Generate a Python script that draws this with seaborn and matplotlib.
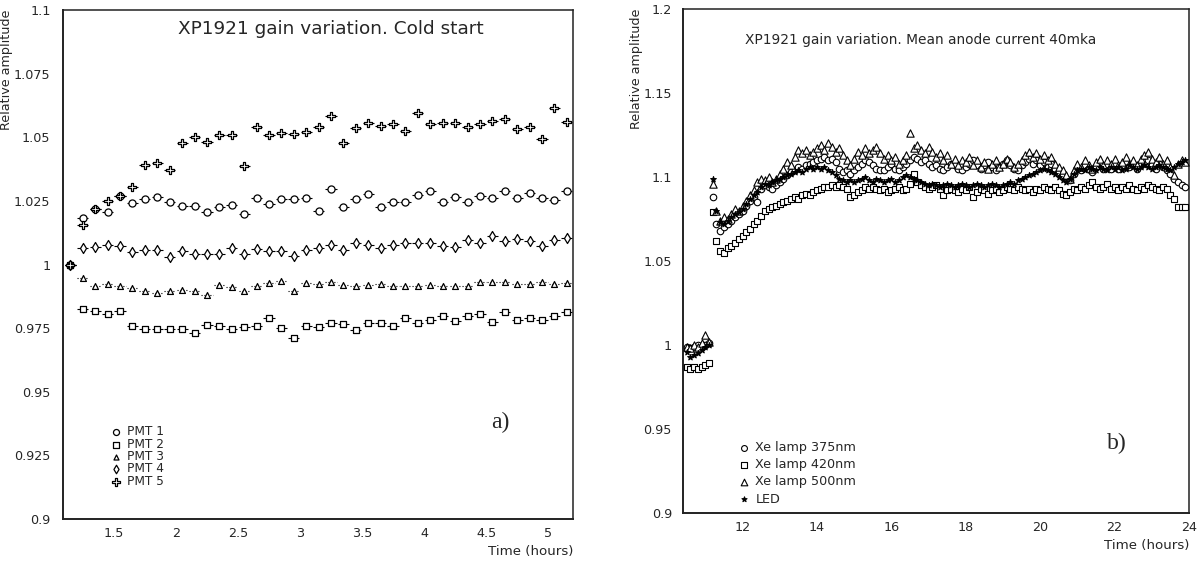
import numpy as np
import pandas as pd
import matplotlib
matplotlib.use("Agg")
import matplotlib.pyplot as plt
import seaborn as sns
from matplotlib.ticker import MultipleLocator, FuncFormatter

# ---------------- data: panel a ----------------
time_a = [1.15, 1.25, 1.35, 1.45, 1.55, 1.65, 1.75, 1.85, 1.95, 2.05,
          2.15, 2.25, 2.35, 2.45, 2.55, 2.65, 2.75, 2.85, 2.95, 3.05,
          3.15, 3.25, 3.35, 3.45, 3.55, 3.65, 3.75, 3.85, 3.95, 4.05,
          4.15, 4.25, 4.35, 4.45, 4.55, 4.65, 4.75, 4.85, 4.95, 5.05, 5.15]
pmt1 = [1.000, 1.0184, 1.0218, 1.0207, 1.0268, 1.0242, 1.0257, 1.0265, 1.0244, 1.0230,
        1.0231, 1.0208, 1.0225, 1.0235, 1.0197, 1.0261, 1.0238, 1.0256, 1.0256, 1.0260,
        1.0212, 1.0296, 1.0225, 1.0258, 1.0278, 1.0225, 1.0244, 1.0244, 1.0275, 1.0287,
        1.0245, 1.0265, 1.0247, 1.0268, 1.0262, 1.0288, 1.0262, 1.0282, 1.0262, 1.0253, 1.0290]
pmt2 = [1.000, 0.9825, 0.9817, 0.9804, 0.9817, 0.9759, 0.9747, 0.9747, 0.9746, 0.9747,
        0.9730, 0.9764, 0.9758, 0.9747, 0.9754, 0.9757, 0.9788, 0.9751, 0.9711, 0.9759,
        0.9753, 0.9770, 0.9768, 0.9743, 0.9772, 0.9772, 0.9758, 0.9788, 0.9770, 0.9780,
        0.9798, 0.9777, 0.9796, 0.9805, 0.9774, 0.9813, 0.9780, 0.9789, 0.9780, 0.9796, 0.9815]
pmt3 = [1.000, 0.9948, 0.9914, 0.9924, 0.9914, 0.9909, 0.9897, 0.9888, 0.9894, 0.9899,
        0.9897, 0.9881, 0.9918, 0.9911, 0.9895, 0.9914, 0.9927, 0.9935, 0.9894, 0.9927,
        0.9924, 0.9930, 0.9920, 0.9914, 0.9919, 0.9923, 0.9917, 0.9914, 0.9917, 0.9920,
        0.9917, 0.9914, 0.9914, 0.9933, 0.9930, 0.9932, 0.9924, 0.9923, 0.9930, 0.9923, 0.9927]
pmt4 = [1.000, 1.0066, 1.0070, 1.0078, 1.0071, 1.0049, 1.0056, 1.0056, 1.0031, 1.0052,
        1.0043, 1.0043, 1.0043, 1.0064, 1.0043, 1.0062, 1.0052, 1.0052, 1.0034, 1.0058,
        1.0066, 1.0078, 1.0058, 1.0086, 1.0078, 1.0065, 1.0077, 1.0083, 1.0086, 1.0084,
        1.0073, 1.0069, 1.0097, 1.0086, 1.0113, 1.0094, 1.0100, 1.0094, 1.0073, 1.0095, 1.0103]
pmt5 = [1.000, 1.0156, 1.0218, 1.0248, 1.0268, 1.0303, 1.0390, 1.0400, 1.0373, 1.0477,
        1.0500, 1.0482, 1.0507, 1.0510, 1.0388, 1.0539, 1.0508, 1.0518, 1.0514, 1.0520,
        1.0539, 1.0584, 1.0477, 1.0538, 1.0555, 1.0545, 1.0552, 1.0525, 1.0596, 1.0552,
        1.0556, 1.0556, 1.0542, 1.0552, 1.0565, 1.0570, 1.0531, 1.0542, 1.0494, 1.0613, 1.0561]
labels_a = ["PMT 1", "PMT 2", "PMT 3", "PMT 4", "PMT 5"]

# ---------------- data: panel b ----------------
time_b = [10.5, 10.6, 10.7, 10.8, 10.9,
          11.0, 11.1, 11.2, 11.3, 11.4, 11.5, 11.6, 11.7, 11.8, 11.9,
          12.0, 12.1, 12.2, 12.3, 12.4, 12.5, 12.6, 12.7, 12.8, 12.9,
          13.0, 13.1, 13.2, 13.3, 13.4, 13.5, 13.6, 13.7, 13.8, 13.9,
          14.0, 14.1, 14.2, 14.3, 14.4, 14.5, 14.6, 14.7, 14.8, 14.9,
          15.0, 15.1, 15.2, 15.3, 15.4, 15.5, 15.6, 15.7, 15.8, 15.9,
          16.0, 16.1, 16.2, 16.3, 16.4, 16.5, 16.6, 16.7, 16.8, 16.9,
          17.0, 17.1, 17.2, 17.3, 17.4, 17.5, 17.6, 17.7, 17.8, 17.9,
          18.0, 18.1, 18.2, 18.3, 18.4, 18.5, 18.6, 18.7, 18.8, 18.9,
          19.0, 19.1, 19.2, 19.3, 19.4, 19.5, 19.6, 19.7, 19.8, 19.9,
          20.0, 20.1, 20.2, 20.3, 20.4, 20.5, 20.6, 20.7, 20.8, 20.9,
          21.0, 21.1, 21.2, 21.3, 21.4, 21.5, 21.6, 21.7, 21.8, 21.9,
          22.0, 22.1, 22.2, 22.3, 22.4, 22.5, 22.6, 22.7, 22.8, 22.9,
          23.0, 23.1, 23.2, 23.3, 23.4, 23.5, 23.6, 23.7, 23.8, 23.9]
xe375 = [0.999, 0.998, 0.999, 1.000, 0.999,
         1.000, 1.001, 1.088, 1.072, 1.068, 1.070, 1.072, 1.074, 1.076, 1.078,
         1.080, 1.083, 1.086, 1.088, 1.085, 1.093, 1.095, 1.094, 1.093, 1.095,
         1.097, 1.099, 1.101, 1.103, 1.104, 1.106, 1.105, 1.107, 1.108, 1.109,
         1.110, 1.111, 1.112, 1.110, 1.111, 1.109, 1.105, 1.103, 1.104, 1.102,
         1.104, 1.106, 1.108, 1.110, 1.109, 1.107, 1.105, 1.104, 1.104, 1.106,
         1.108, 1.105, 1.104, 1.106, 1.108, 1.110, 1.112, 1.111, 1.109, 1.110,
         1.108, 1.106, 1.107, 1.105, 1.104, 1.106, 1.108, 1.107, 1.105, 1.104,
         1.106, 1.108, 1.110, 1.107, 1.105, 1.107, 1.109, 1.106, 1.104, 1.106,
         1.108, 1.110, 1.107, 1.105, 1.104, 1.107, 1.109, 1.111, 1.108, 1.110,
         1.107, 1.109, 1.106, 1.108, 1.105, 1.103, 1.101, 1.099, 1.098, 1.102,
         1.105, 1.104, 1.107, 1.105, 1.103, 1.106, 1.108, 1.105, 1.107, 1.105,
         1.108, 1.105, 1.107, 1.109, 1.106, 1.108, 1.105, 1.107, 1.109, 1.110,
         1.107, 1.105, 1.108, 1.106, 1.104, 1.102, 1.099, 1.097, 1.095, 1.094]
xe420 = [0.987, 0.986, 0.987, 0.986, 0.987,
         0.988, 0.989, 1.079, 1.062, 1.056, 1.055, 1.058, 1.059, 1.061, 1.063,
         1.065, 1.067, 1.069, 1.072, 1.074, 1.077, 1.080, 1.081, 1.082, 1.083,
         1.084, 1.085, 1.086, 1.087, 1.088, 1.087, 1.089, 1.090, 1.089, 1.091,
         1.092, 1.093, 1.094, 1.094, 1.095, 1.094, 1.095, 1.094, 1.093, 1.088,
         1.089, 1.091, 1.092, 1.094, 1.093, 1.094, 1.093, 1.092, 1.093, 1.091,
         1.092, 1.093, 1.094, 1.092, 1.093, 1.096, 1.102, 1.097, 1.095, 1.094,
         1.093, 1.094, 1.095, 1.093, 1.089, 1.092, 1.093, 1.092, 1.091, 1.093,
         1.092, 1.094, 1.088, 1.091, 1.093, 1.092, 1.090, 1.092, 1.093, 1.091,
         1.092, 1.094, 1.093, 1.092, 1.094, 1.093, 1.092, 1.093, 1.091, 1.093,
         1.092, 1.094, 1.093, 1.092, 1.094, 1.092, 1.090, 1.089, 1.091, 1.093,
         1.092, 1.094, 1.093, 1.095, 1.097, 1.094, 1.093, 1.094, 1.096, 1.093,
         1.094, 1.092, 1.094, 1.093, 1.095, 1.093, 1.092, 1.094, 1.093, 1.095,
         1.094, 1.093, 1.092, 1.094, 1.093, 1.089, 1.087, 1.082, 1.082, 1.082]
xe500 = [0.999, 0.998, 1.000, 0.999, 1.001,
         1.006, 1.002, 1.096, 1.080, 1.074, 1.076, 1.075, 1.078, 1.081, 1.080,
         1.083, 1.086, 1.089, 1.092, 1.097, 1.099, 1.098, 1.100, 1.097, 1.099,
         1.102, 1.105, 1.109, 1.107, 1.112, 1.116, 1.114, 1.116, 1.113, 1.115,
         1.117, 1.119, 1.116, 1.120, 1.118, 1.115, 1.117, 1.113, 1.110, 1.107,
         1.111, 1.115, 1.113, 1.117, 1.114, 1.116, 1.118, 1.114, 1.111, 1.113,
         1.110, 1.112, 1.108, 1.110, 1.113, 1.126, 1.117, 1.119, 1.116, 1.114,
         1.118, 1.115, 1.112, 1.114, 1.110, 1.113, 1.108, 1.111, 1.107, 1.110,
         1.109, 1.112, 1.107, 1.110, 1.106, 1.109, 1.105, 1.108, 1.110, 1.106,
         1.108, 1.111, 1.109, 1.106, 1.108, 1.110, 1.113, 1.115, 1.112, 1.114,
         1.111, 1.113, 1.110, 1.112, 1.108, 1.106, 1.104, 1.101, 1.099, 1.104,
         1.108, 1.106, 1.110, 1.107, 1.105, 1.109, 1.111, 1.107, 1.110, 1.108,
         1.111, 1.107, 1.109, 1.112, 1.108, 1.110, 1.107, 1.111, 1.113, 1.115,
         1.111, 1.109, 1.112, 1.108, 1.110, 1.106, 1.101, 1.108, 1.110, 1.109]
led = [0.996, 0.993, 0.994, 0.995, 0.997,
       0.999, 1.000, 1.099, 1.080, 1.073, 1.072, 1.074, 1.076, 1.078, 1.079,
       1.081, 1.084, 1.087, 1.089, 1.091, 1.094, 1.096, 1.095, 1.097, 1.098,
       1.099, 1.100, 1.101, 1.102, 1.103, 1.104, 1.103, 1.105, 1.106, 1.105,
       1.106, 1.105, 1.106, 1.104, 1.103, 1.101, 1.099, 1.098, 1.097, 1.098,
       1.097, 1.098, 1.099, 1.100, 1.098, 1.097, 1.099, 1.098, 1.097, 1.098,
       1.099, 1.097, 1.098, 1.100, 1.101, 1.100, 1.099, 1.098, 1.097, 1.096,
       1.095, 1.096, 1.095, 1.094, 1.095, 1.096, 1.095, 1.094, 1.095, 1.096,
       1.095, 1.094, 1.095, 1.096, 1.095, 1.094, 1.095, 1.096, 1.095, 1.094,
       1.095, 1.096, 1.097, 1.096, 1.098, 1.099, 1.100, 1.101, 1.102, 1.103,
       1.104, 1.105, 1.104, 1.103, 1.102, 1.100, 1.098, 1.097, 1.099, 1.102,
       1.104, 1.105, 1.104, 1.106, 1.105, 1.104, 1.106, 1.105, 1.104, 1.106,
       1.105, 1.106, 1.104, 1.105, 1.107, 1.106, 1.105, 1.106, 1.107, 1.106,
       1.105, 1.106, 1.107, 1.106, 1.105, 1.104, 1.106, 1.108, 1.109, 1.110]
labels_b = ["Xe lamp 375nm", "Xe lamp 420nm", "Xe lamp 500nm", "LED"]

# ---------------- figure ----------------
sns.set_style("white")
plt.rcParams["font.family"] = ["DejaVu Sans"]
W, H = 1199, 561
fig = plt.figure(figsize=(W / 100, H / 100), dpi=100)

def fr(l, t, r, b):
    return [l / W, 1 - b / H, (r - l) / W, (b - t) / H]

axA = fig.add_axes(fr(63, 10, 573, 519))
axB = fig.add_axes(fr(683, 9, 1189, 513))

fmt = FuncFormatter(lambda v, p: f"{v:g}")

def style_axis(ax, xmaj, xmin_, ymaj, ymin_, ypad):
    for s in ax.spines.values():
        s.set_color("#222222")
        s.set_linewidth(1.1)
        s.set_visible(True)
    ax.spines["left"].set_linewidth(1.4)
    ax.spines["bottom"].set_linewidth(1.4)
    ax.xaxis.set_major_locator(MultipleLocator(xmaj))
    ax.xaxis.set_minor_locator(MultipleLocator(xmin_))
    ax.yaxis.set_major_locator(MultipleLocator(ymaj))
    ax.yaxis.set_minor_locator(MultipleLocator(ymin_))
    ax.xaxis.set_major_formatter(fmt)
    ax.yaxis.set_major_formatter(fmt)
    ax.tick_params(which="both", direction="in", top=False, right=False,
                   color="#222222", labelsize=9.2, width=1.1)
    ax.tick_params(which="major", length=7)
    ax.tick_params(which="minor", length=4)
    ax.tick_params(axis="x", which="major", pad=6)
    ax.tick_params(axis="y", which="major", pad=ypad)
    ax.grid(False)

# ---------- panel a ----------
series_a = [pmt1, pmt2, pmt3, pmt4, pmt5]
mk_a = ["o", "s", "^", "d", "P"]
sz_a = [26, 24, 18, 26, 36]
ls_a = ["-", "-", ":", "-", "-"]
for vals, m, s, lab, ls in zip(series_a, mk_a, sz_a, labels_a, ls_a):
    eb = axA.errorbar(time_a, vals, xerr=0.045, fmt="none", ecolor="black",
                      elinewidth=0.8, zorder=2)
    eb[2][0].set_linestyle(ls)
    sns.scatterplot(x=time_a, y=vals, ax=axA, marker=m, s=s, facecolor="white",
                    edgecolor="black", linewidth=0.9, label=lab, zorder=3)

axA.set_xlim(1.09, 5.2)
axA.set_ylim(0.9, 1.1)
style_axis(axA, 0.5, 0.1, 0.025, 0.005, 9)
axA.set_xlabel("Time (hours)", fontsize=9.6, loc="right", labelpad=3)
axA.set_ylabel("Relative amplitude", fontsize=9.2, loc="top")
axA.yaxis.set_label_coords(-0.111, 1.0)
axA.yaxis.label.set_va("center")
axA.text(0.526, 0.963, "XP1921 gain variation. Cold start", transform=axA.transAxes,
         ha="center", va="center", fontsize=13.3)
axA.text(0.857, 0.189, "a)", transform=axA.transAxes, ha="center", va="center",
         fontsize=17, family="Liberation Serif")
legA = axA.legend(loc="upper left", bbox_to_anchor=(0.085, 0.196), frameon=False,
                  fontsize=8.7, handlelength=0.6, handletextpad=0.6,
                  labelspacing=-0.05, borderpad=0, markerscale=0.85)

# ---------- panel b ----------
series_b = [xe375, xe420, xe500, led]
mk_b = ["o", "s", "^", "*"]
sz_b = [22, 24, 28, 18]
fc_b = ["white", "white", "white", "black"]
for vals, m, s, fc, lab in zip(series_b, mk_b, sz_b, fc_b, labels_b):
    sns.scatterplot(x=time_b, y=vals, ax=axB, marker=m, s=s, facecolor=fc,
                    edgecolor="black", linewidth=0.8, label=lab, zorder=3)

axB.set_xlim(10.4, 24)
axB.set_ylim(0.9, 1.2)
style_axis(axB, 2, 0.5, 0.05, 0.025, 8)
axB.set_xlabel("Time (hours)", fontsize=9.6, loc="right", labelpad=3)
axB.set_ylabel("Relative amplitude", fontsize=9.2, loc="top")
axB.yaxis.set_label_coords(-0.091, 1.0)
axB.yaxis.label.set_va("center")
axB.text(0.47, 0.938, "XP1921 gain variation. Mean anode current 40mka",
         transform=axB.transAxes, ha="center", va="center", fontsize=9.9)
axB.text(0.858, 0.137, "b)", transform=axB.transAxes, ha="center", va="center",
         fontsize=17, family="Liberation Serif")
legB = axB.legend(loc="upper left", bbox_to_anchor=(0.1, 0.155), frameon=False,
                  fontsize=9.2, handlelength=0.6, handletextpad=0.6,
                  labelspacing=0.32, borderpad=0, markerscale=0.9)

fig.savefig("out.png", dpi=100, facecolor="white")
